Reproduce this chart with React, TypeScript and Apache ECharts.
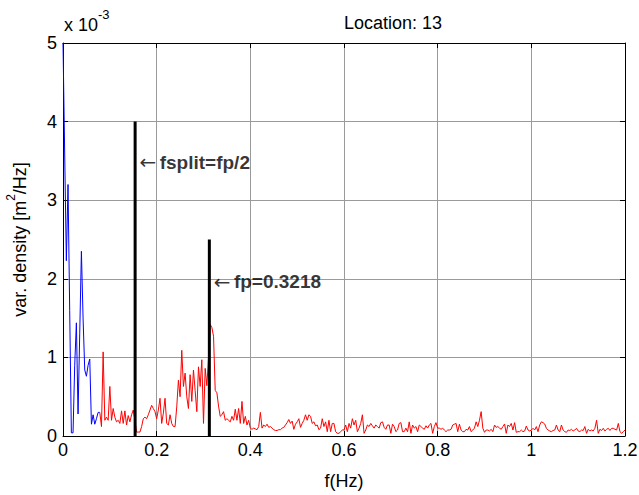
import React, { useEffect, useRef } from "react";
import * as echarts from "echarts";

// frequency resolution of the spectrum (Hz)
const DF = 1.2 / 336;

// swell part (blue), values in 1e-3 m^2/Hz, starting at f = 0
const blueValues = [5.0, 3.6, 2.23, 3.2, 1.6, 0.04, 0.04, 0.9, 1.44, 0.28, 1.3, 2.35, 1.5, 0.84, 0.76, 0.9, 0.98, 0.15, 0.27, 0.15, 0.22, 0.3, 0.3];
const redStartIndex = 22;
// wind-sea part (red)
const redSeg1 = [
  0.3, 0.12, 1.07, 0.2, 0.24, 0.2, 0.63, 0.2, 0.35, 0.24,
  0.18, 0.2, 0.16, 0.32, 0.16, 0.32, 0.14, 0.26, 0.18, 0.27,
  0.33, 0.2, 0.05, 0.05, 0.05, 0.12, 0.22, 0.24, 0.22, 0.27,
  0.33, 0.39, 0.35, 0.31, 0.22, 0.33, 0.48, 0.16, 0.29, 0.48,
  0.16, 0.14, 0.27, 0.16, 0.12, 0.12, 0.37, 0.71, 0.5, 1.09,
  0.63, 0.8, 0.5, 0.35, 0.78, 0.44, 0.84, 0.58, 0.31, 0.88,
  0.63, 0.97, 0.16, 0.86, 0.64, 1.0, 1.42, 1.38, 1.27, 0.58,
];
const redSeg2 = [
  0.55, 0.38, 0.25, 0.27, 0.31, 0.2, 0.22, 0.2, 0.18, 0.25,
  0.2, 0.34, 0.2, 0.35, 0.16, 0.44, 0.16, 0.25, 0.14, 0.2,
  0.1, 0.085, 0.1, 0.09, 0.08, 0.12, 0.3, 0.1, 0.14, 0.12,
  0.15, 0.11, 0.12, 0.1, 0.08, 0.07, 0.07, 0.08, 0.08, 0.1,
  0.11, 0.14, 0.17, 0.21, 0.16, 0.19, 0.085, 0.15, 0.18, 0.22,
  0.11, 0.16, 0.2, 0.27, 0.2, 0.27,
];
const redSeg3 = [
  0.25, 0.16, 0.18, 0.13, 0.14, 0.08, 0.1, 0.22, 0.12, 0.18,
  0.055, 0.2, 0.055, 0.16, 0.16, 0.055, 0.034, 0.034, 0.055, 0.076,
  0.076, 0.14, 0.055, 0.16, 0.1, 0.22, 0.14, 0.2, 0.055, 0.1,
  0.16, 0.27, 0.034, 0.076, 0.14, 0.12, 0.16, 0.13, 0.1, 0.14,
  0.12, 0.1, 0.17, 0.18, 0.11, 0.085, 0.14, 0.14, 0.034, 0.15,
  0.12, 0.055, 0.076, 0.16, 0.17, 0.055, 0.055, 0.1, 0.055, 0.18,
  0.034, 0.14, 0.1, 0.12, 0.055, 0.14, 0.12, 0.1, 0.085, 0.13,
  0.1, 0.14, 0.16, 0.034, 0.12, 0.17, 0.1, 0.1, 0.085, 0.1,
  0.076, 0.055, 0.076, 0.076, 0.085, 0.14, 0.15, 0.16, 0.055, 0.15,
  0.076, 0.055, 0.055, 0.085,
];
const redSeg4 = [
  0.076, 0.12, 0.055, 0.076, 0.1, 0.18, 0.12, 0.2, 0.31, 0.1,
  0.047, 0.076, 0.076, 0.064, 0.085, 0.055, 0.14, 0.11, 0.12, 0.1,
  0.085, 0.12, 0.153, 0.034, 0.14, 0.12, 0.16, 0.076, 0.17, 0.047,
  0.055, 0.055, 0.076, 0.055, 0.064, 0.127, 0.076, 0.064, 0.076, 0.098,
  0.076, 0.12, 0.055, 0.14, 0.18, 0.17, 0.153, 0.098, 0.076, 0.064,
  0.055, 0.07, 0.076, 0.14, 0.076, 0.055, 0.14, 0.076, 0.055, 0.047,
  0.076, 0.07, 0.085, 0.064, 0.076, 0.098, 0.064, 0.055, 0.076, 0.07,
  0.12, 0.034, 0.085, 0.064, 0.076, 0.064, 0.098, 0.2, 0.034, 0.085,
  0.07, 0.098, 0.064, 0.085, 0.098, 0.07, 0.098, 0.098, 0.085, 0.076,
  0.16, 0.055, 0.034, 0.055, 0.076,
];

// marker lines
const fsplitX = 0.154;
const fsplitHeight = 4;
const fpX = 0.3125;
const fpHeight = 2.5;
const fsplitLabelY = 3.48;
const fpLabelY = 1.96;
const fsplitText = "fsplit=fp/2";
const fpText = "fp=0.3218";

const xTickLabels = ["0", "0.2", "0.4", "0.6", "0.8", "1", "1.2"];
const yTickLabels = ["0", "1", "2", "3", "4", "5"];

const FONT = "'Liberation Sans', Arial, Helvetica, sans-serif";

export default function App() {
  const ref = useRef<HTMLDivElement>(null);
  useEffect(() => {
    if (!ref.current) return;
    const chart = echarts.init(ref.current, null, { renderer: "svg" });
    const toPts = (vals: number[], start: number) => vals.map((v, k) => [(start + k) * DF, v]);
    const blue = toPts(blueValues, 0);
    const red = toPts([...redSeg1, ...redSeg2, ...redSeg3, ...redSeg4], redStartIndex);

    const gridLine = { show: true, lineStyle: { color: "#9a9a9a", width: 1 } };
    const baseX = {
      type: "value" as const, min: 0, max: 1.2, interval: 0.2,
      axisLine: { show: true, onZero: false, lineStyle: { color: "#000", width: 1 } },
      axisTick: { show: true, inside: true, length: 5, lineStyle: { color: "#000" } },
    };
    const baseY = {
      type: "value" as const, min: 0, max: 5, interval: 1,
      axisLine: { show: true, onZero: false, lineStyle: { color: "#000", width: 1 } },
      axisTick: { show: true, inside: true, length: 5, lineStyle: { color: "#000" } },
    };
    const labelRich = {
      arr: { fontFamily: "'DejaVu Sans', sans-serif", fontSize: 20, color: "#000" },
      b: { fontFamily: FONT, fontSize: 19, fontWeight: "bold" as const, color: "#000" },
    };

    chart.setOption({
      animation: false,
      backgroundColor: "#fff",
      grid: { left: 63, right: 14, top: 43, bottom: 59, containLabel: false, outerBoundsMode: "none" },
      xAxis: [
        {
          ...baseX, position: "bottom",
          splitLine: gridLine,
          axisLabel: {
            color: "#000", fontSize: 18, fontFamily: FONT, margin: 5,
            formatter: (v: number) => xTickLabels[Math.round(v / 0.2)],
          },
          name: "f(Hz)", nameLocation: "middle", nameGap: 36,
          nameTextStyle: { color: "#000", fontSize: 18, fontFamily: FONT },
        },
        { ...baseX, position: "top", splitLine: { show: false }, axisLabel: { show: false } },
      ],
      yAxis: [
        {
          ...baseY, position: "left",
          splitLine: gridLine,
          axisLabel: {
            color: "#000", fontSize: 18, fontFamily: FONT, margin: 6,
            formatter: (v: number) => yTickLabels[Math.round(v)],
          },
          name: "{a|var. density [m}{s|2}{a|/Hz]}", nameLocation: "middle", nameGap: 34,
          nameTextStyle: {
            color: "#000", fontFamily: FONT,
            rich: {
              a: { fontSize: 18, fontFamily: FONT, color: "#000", verticalAlign: "bottom", lineHeight: 24 },
              s: { fontSize: 12, fontFamily: FONT, color: "#000", verticalAlign: "top", lineHeight: 24 },
            },
          },
        },
        { ...baseY, position: "right", splitLine: { show: false }, axisLabel: { show: false } },
      ],
      graphic: [
        {
          type: "text", left: 344, top: 14,
          style: { text: "Location: 13", fontSize: 18, fontFamily: FONT, fill: "#000", textAlign: "center" },
        },
        {
          type: "text", left: 64, top: 8,
          style: {
            text: "{a|x 10}{s|-3}", fontFamily: FONT,
            rich: {
              a: { fontSize: 18, fontFamily: FONT, fill: "#000", verticalAlign: "bottom", lineHeight: 26 },
              s: { fontSize: 13, fontFamily: FONT, fill: "#000", verticalAlign: "top", lineHeight: 26 },
            },
          },
        },
      ],
      series: [
        {
          type: "line", data: blue, symbol: "none", silent: true,
          lineStyle: { color: "#0000ff", width: 1 }, z: 3,
        },
        {
          type: "line", data: red, symbol: "none", silent: true,
          lineStyle: { color: "#ff0000", width: 1 }, z: 3,
        },
        {
          type: "line", data: [[fsplitX, 0], [fsplitX, fsplitHeight]], symbol: "none", silent: true,
          lineStyle: { color: "#000", width: 3 }, z: 4,
        },
        {
          type: "line", data: [[fpX, 0], [fpX, fpHeight]], symbol: "none", silent: true,
          lineStyle: { color: "#000", width: 3 }, z: 4,
        },
        {
          type: "scatter", silent: true, symbolSize: 1, itemStyle: { color: "rgba(0,0,0,0)" }, z: 5,
          data: [
            { value: [fsplitX, fsplitLabelY], label: { formatter: `{arr|←} {b|${fsplitText}}` } },
            { value: [fpX, fpLabelY], label: { formatter: `{arr|←} {b|${fpText}}` } },
          ],
          label: { show: true, position: "right", distance: 4, rich: labelRich },
        },
      ],
    });
    return () => chart.dispose();
  }, []);
  return <div ref={ref} style={{ position: "fixed", left: 0, top: 0, width: 639, height: 495 }} />;
}
